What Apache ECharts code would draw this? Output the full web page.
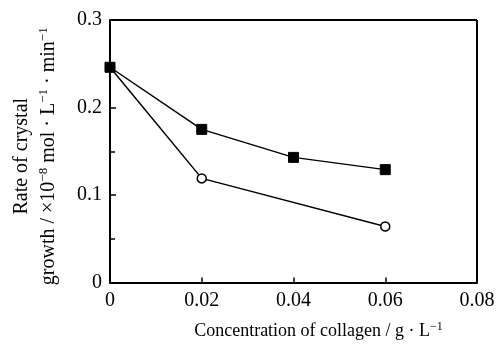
<!DOCTYPE html>
<html>
<head>
<meta charset="utf-8">
<script src="https://cdn.jsdelivr.net/npm/echarts@6/dist/echarts.min.js"></script>
<style>
  html, body { margin: 0; padding: 0; background: #fff; }
  #main { width: 501px; height: 345px; }
</style>
</head>
<body>
<div id="main"></div>
<script>
// data
var concentration = [0, 0.02, 0.04, 0.06];
var filledSquares = [0.246, 0.175, 0.143, 0.129];
var openCircles = [[0, 0.246], [0.02, 0.119], [0.06, 0.064]];
var xTicks = [0, 0.02, 0.04, 0.06, 0.08];

var squareData = concentration.map(function (c, i) { return [c, filledSquares[i]]; });

var FONT = 'Liberation Serif';
var chart = echarts.init(document.getElementById('main'));

var option = {
    animation: false,
    backgroundColor: '#fff',
    grid: { left: 105, top: 20, right: 24, bottom: 52, show: false },
    xAxis: {
        type: 'value',
        min: 0, max: 0.08, interval: 0.02,
        name: '{a|Concentration of collagen / g · L}{s|−1}',
        nameLocation: 'middle',
        nameGap: 38,
        nameTextStyle: {
            padding: [0, 0, 0, 50],
            rich: {
                a: { fontFamily: FONT, fontSize: 18, color: '#000' },
                s: { fontFamily: FONT, fontSize: 12, color: '#000', padding: [0, 0, 9, 0] }
            }
        },
        axisLine: { show: true, onZero: false, lineStyle: { color: '#000', width: 2 } },
        axisTick: { show: true, inside: true, length: 5, lineStyle: { color: '#000', width: 1.5 } },
        axisLabel: {
            fontFamily: FONT, fontSize: 20, color: '#000', margin: 8,
            formatter: function (v) {
                var s = xTicks.filter(function (t) { return Math.abs(t - v) < 1e-9; });
                return s.length ? (v === 0 ? '0' : v.toFixed(2)) : '';
            }
        },
        splitLine: { show: false }
    },
    yAxis: {
        type: 'value',
        min: 0, max: 0.3, interval: 0.1,
        name: '{a|Rate of crystal}\n{a|growth / ×10}{s|−8}{a| mol · L}{s|−1}{a| · min}{s|−1}',
        nameLocation: 'middle',
        nameRotate: 90,
        nameGap: 48,
        nameTextStyle: {
            lineHeight: 27,
            padding: [0, 10, 0, 0],
            rich: {
                a: { fontFamily: FONT, fontSize: 20, color: '#000', lineHeight: 27 },
                s: { fontFamily: FONT, fontSize: 13, color: '#000', padding: [0, 0, 10, 0], lineHeight: 27 }
            }
        },
        axisLine: { show: true, onZero: false, lineStyle: { color: '#000', width: 2 } },
        axisTick: { show: true, inside: true, length: 6, lineStyle: { color: '#000', width: 1.5 } },
        minorTick: { show: true, splitNumber: 2, length: 5, lineStyle: { color: '#000', width: 1.5 } },
        axisLabel: {
            fontFamily: FONT, fontSize: 20, color: '#000', margin: 8,
            formatter: function (v) { return v === 0 ? '0' : v.toFixed(1); }
        },
        splitLine: { show: false }
    },
    series: [
        {
            name: 'open',
            type: 'line',
            data: openCircles,
            symbol: 'circle',
            symbolSize: 9,
            showAllSymbol: true,
            itemStyle: { color: '#fff', borderColor: '#000', borderWidth: 1.5 },
            lineStyle: { color: '#000', width: 1.5 },
            z: 3
        },
        {
            name: 'filled',
            type: 'line',
            data: squareData,
            symbol: 'rect',
            symbolSize: 10,
            itemStyle: { color: '#000', borderColor: '#000' },
            lineStyle: { color: '#000', width: 1.5 },
            z: 4
        },
        {
            // frame: top and right borders of the box
            type: 'line',
            data: [],
            markLine: {
                silent: true,
                symbol: 'none',
                label: { show: false },
                lineStyle: { color: '#000', width: 2, type: 'solid' },
                data: [
                    [{ coord: [0, 0.3] }, { coord: [0.08, 0.3] }],
                    [{ coord: [0.08, 0] }, { coord: [0.08, 0.3] }]
                ]
            }
        }
    ]
};

chart.setOption(option);
</script>
</body>
</html>
